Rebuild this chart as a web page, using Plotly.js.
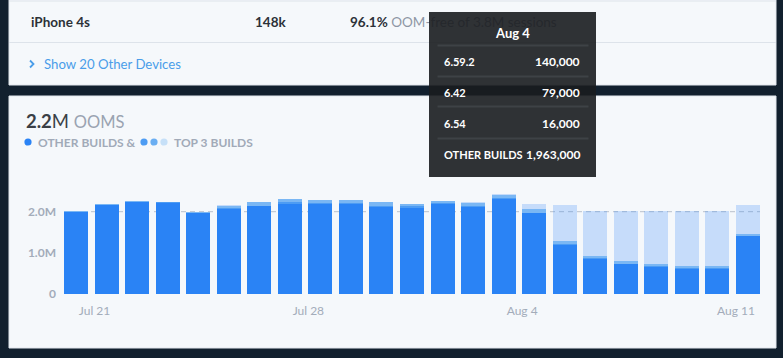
<!DOCTYPE html>
<html>
<head>
<meta charset="utf-8">
<script src="https://cdn.plot.ly/plotly-3.0.1.min.js"></script>
<style>
html,body{margin:0;padding:0;background:#12202e;}
#chart{width:783px;height:358px;}
</style>
</head>
<body>
<div id="chart"></div>
<script>
// ---- data ----
const dates = ['2018-07-20','2018-07-21','2018-07-22','2018-07-23','2018-07-24','2018-07-25','2018-07-26',
  '2018-07-27','2018-07-28','2018-07-29','2018-07-30','2018-07-31','2018-08-01','2018-08-02',
  '2018-08-03','2018-08-04','2018-08-05','2018-08-06','2018-08-07','2018-08-08','2018-08-09',
  '2018-08-10','2018-08-11'];
const otherBuilds = [1990000,2160000,2240000,2220000,1970000,2070000,2130000,2190000,2190000,2180000,
  2120000,2100000,2180000,2120000,2320000,1963000,1200000,850000,720000,650000,600000,610000,1400000];
const build654 = [5000,5000,5000,5000,5000,20000,20000,40000,20000,20000,30000,30000,20000,20000,
  20000,16000,20000,20000,20000,20000,20000,20000,20000];
const build642 = [10000,10000,10000,10000,10000,60000,80000,70000,70000,80000,80000,50000,60000,80000,
  70000,79000,60000,50000,50000,50000,50000,40000,50000];
const build6592 = [0,0,0,0,0,20000,0,0,0,0,0,0,0,20000,10000,140000,890000,1100000,1230000,1300000,
  1350000,1340000,700000];
const tickDates = ['2018-07-21','2018-07-28','2018-08-04','2018-08-11'];
const tickLabels = ['Jul 21','Jul 28','Aug 4','Aug 11'];
const yTicks = [0,1000000,2000000];
const yTickLabels = ['0','1.0M','2.0M'];
const tipDate = 'Aug 4';
const tipNames = ['6.59.2','6.42','6.54','OTHER BUILDS'];
const tipValues = ['140,000','79,000','16,000','1,963,000'];

// ---- layout helpers (pixel -> paper) ----
const L=64, T=187, W=696, H=107;
const X = p => (p-L)/W;
const Y = p => (T+H-p)/H;
const FONT = 'Lato, "Open Sans", sans-serif';
const DAY = 86400000;
const BW = 0.787*DAY;

const colors = {other:'#2a83f5', b654:'#4d9cf3', b642:'#7ab7f4', b6592:'rgba(42,131,245,0.23)'};

function bar(y, color, name){
  return {type:'bar', x:dates, y:y, name:name, width:BW, offset:0,
    marker:{color:color, line:{width:0}}, hoverinfo:'skip'};
}
const traces = [
  bar(otherBuilds, colors.other, 'OTHER BUILDS'),
  bar(build654, colors.b654, '6.54'),
  bar(build642, colors.b642, '6.42'),
  bar(build6592, colors.b6592, '6.59.2')
];

function rect(x0,y0,x1,y1,fill,line,layer){
  return {type:'rect', xref:'paper', yref:'paper', x0:X(x0), x1:X(x1), y0:Y(y0), y1:Y(y1),
    fillcolor:fill, line:line||{width:0}, layer:layer||'below'};
}
function hline(x0,x1,y,color){
  return {type:'line', xref:'paper', yref:'paper', x0:X(x0), x1:X(x1), y0:Y(y), y1:Y(y),
    line:{color:color, width:1}, layer:'below'};
}
function dot(cx,cy,r,color){
  return {type:'circle', xref:'paper', yref:'paper', x0:X(cx-r), x1:X(cx+r), y0:Y(cy-r), y1:Y(cy+r),
    fillcolor:color, line:{width:0}, layer:'below'};
}

const shapes = [
  rect(9,-5,776,85,'#f5f8fb',{color:'#e2e7ed',width:1}),
  hline(9,776,1,'#dde3ea'),
  hline(9,776,42.5,'#dde3ea'),
  rect(9,96,776,348,'#f5f8fb',{color:'#e2e7ed',width:1}),
  {type:'line', xref:'paper', yref:'y', x0:0, x1:1, y0:2000000, y1:2000000,
    line:{color:'#b9c1cc', width:1, dash:'5px,4px'}, layer:'below'},
  {type:'path', xref:'paper', yref:'paper',
    path:`M ${X(30)} ${Y(60.5)} L ${X(33.5)} ${Y(64)} L ${X(30)} ${Y(67.5)}`,
    line:{color:'#4a9de9', width:1.8}, layer:'below'},
  dot(28,142,3.6,colors.other),
  dot(144,142,3.6,colors.b654),
  dot(154,142,3.6,'#6aaef2'),
  dot(164,142,3.6,'#c6e0f8')
];

function txt(text,x,y,size,color,opts){
  return Object.assign({text:text, xref:'paper', yref:'paper', x:X(x), y:Y(y), xanchor:'left',
    yanchor:'middle', showarrow:false, font:{family:FONT, size:size, color:color}}, opts||{});
}

const annotations = [
  txt('<b>iPhone 4s</b>',29,22,13.5,'#2c3138'),
  txt('<b>148k</b>',253,22,13.5,'#2c3138'),
  txt('<b>96.1%</b> <span style="color:#8d96a4">OOM-free of 3.8M sessions</span>',348,22,13.5,'#2c3138'),
  txt('Show 20 Other Devices',42,64.5,13.2,'#4a9de9'),
  txt('<b>2.2</b>M <span style="color:#9aa3b1;font-size:16.5px">OOMS</span>',24,121,18.5,'#3a3f46'),
  txt('<b>OTHER BUILDS &</b>',36,142,12,'#a1aab8'),
  txt('<b>TOP 3 BUILDS</b>',172,142,12,'#a1aab8'),
  // tooltip box
  {text:' ', xref:'paper', yref:'paper', x:X(429), y:Y(12), xanchor:'left', yanchor:'top',
    width:167, height:165, bgcolor:'rgba(25,28,31,0.9)', borderpad:0, borderwidth:0, showarrow:false,
    font:{size:1}},
];
[45,76,107,138].forEach(yy=>{
  annotations.push({text:' ', xref:'paper', yref:'paper', x:X(437), y:Y(yy), xanchor:'left',
    yanchor:'middle', width:150, height:1, bgcolor:'#3e4246', borderpad:0, showarrow:false, font:{size:1}});
});
annotations.push(txt('<b>'+tipDate+'</b>',512,33,13,'#ffffff',{xanchor:'center'}));
const rowY = [61.5,92,123,154];
tipNames.forEach((n,i)=>{
  annotations.push(txt('<b>'+n+'</b>',442,rowY[i],11,'#ffffff'));
  annotations.push(txt('<b>'+tipValues[i]+'</b>',582,rowY[i],12,'#ffffff',{xanchor:'right'}));
});

const layout = {
  width:783, height:358,
  margin:{l:L, r:783-L-W, t:T, b:358-T-H, pad:0},
  paper_bgcolor:'#12202e', plot_bgcolor:'rgba(0,0,0,0)',
  barmode:'stack', showlegend:false, hovermode:false,
  xaxis:{type:'date', range:[dates[0], new Date(Date.parse(dates[22]+'T00:00:00Z')+BW).toISOString()],
    tickvals:tickDates, ticktext:tickLabels, showgrid:false, zeroline:false, showline:false,
    ticks:'', ticklabelstandoff:8, automargin:false,
    tickfont:{family:FONT, size:12, color:'#a3acba'}},
  yaxis:{range:[0,2600000], tickvals:yTicks, ticktext:yTickLabels, showgrid:false, zeroline:false,
    showline:false, ticks:'', ticklabelstandoff:7, automargin:false,
    tickfont:{family:FONT, size:12, color:'#a3acba', weight:700}},
  shapes:shapes, annotations:annotations
};

Plotly.newPlot('chart', traces, layout, {displayModeBar:false, staticPlot:true});
</script>
</body>
</html>
